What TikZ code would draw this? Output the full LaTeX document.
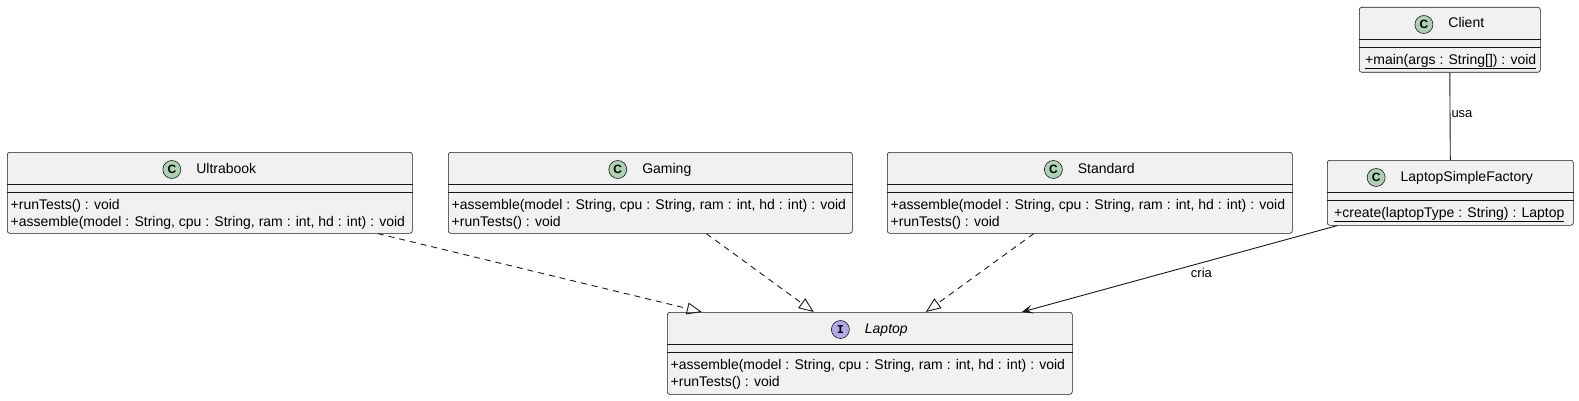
\documentclass[tikz,border=0pt]{standalone}
\usepackage{fontspec}
\setmainfont{Liberation Sans}
\setmonofont{Liberation Mono}
\usetikzlibrary{positioning,arrows.meta}
\definecolor{boxfill}{HTML}{F1F1F1}
\definecolor{boxline}{HTML}{181818}
\definecolor{classicon}{HTML}{ADD1B2}
\definecolor{ifaceicon}{HTML}{B4A7E5}

\tikzset{
  classbox/.style={draw=boxline, fill=boxfill, line width=0.6pt, rounded corners=2.5pt, anchor=north west, inner sep=0pt},
  sepline/.style={draw=boxline, line width=0.6pt},
  icon/.style={circle, draw=boxline, line width=0.6pt, minimum size=18pt, inner sep=0pt, font=\fontsize{12}{12}\selectfont\bfseries},
  ctitle/.style={inner sep=0pt, text height=10pt, text depth=3pt, font=\fontsize{14}{17}\selectfont},
  members/.style={inner sep=0pt, anchor=north west, align=left, font=\fontsize{14}{17}\selectfont},
  lbl/.style={font=\fontsize{13}{15}\selectfont, inner sep=1.5pt},
  realize/.style={draw=boxline, line width=0.9pt, dash pattern=on 6pt off 5pt, -{Triangle[open, length=15pt, width=12pt]}},
  assoc/.style={draw=boxline, line width=0.9pt, -{Stealth[length=11pt, width=9pt, inset=5pt]}},
  link/.style={draw=boxline, line width=0.9pt}
}

\begin{document}
\begin{tikzpicture}[x=1pt, y=-1pt]
\useasboundingbox (0,0) rectangle (1579,401);

% Ultrabook
\node[classbox, minimum width=405pt, minimum height=81pt] (ultra) at (7,152) {};
\draw[sepline] ([yshift=-32pt]ultra.north west) -- ([yshift=-32pt]ultra.north east)
  ([yshift=-40pt]ultra.north west) -- ([yshift=-40pt]ultra.north east);
\node[ctitle] (ultratitle) at ([xshift=16.5pt, yshift=-17.5pt]ultra.north) {Ultrabook};
\node[icon, fill=classicon, left=15pt of ultratitle] (ultraicon) {C};
\node[members] (ultramethods) at ([xshift=3.5pt, yshift=-45pt]ultra.north west)
  {\strut+runTests() : void\\+assemble(model : String, cpu : String, ram : int, hd : int) : void};

% Gaming
\node[classbox, minimum width=404pt, minimum height=81pt] (gaming) at (448,152) {};
\draw[sepline] ([yshift=-32pt]gaming.north west) -- ([yshift=-32pt]gaming.north east)
  ([yshift=-40pt]gaming.north west) -- ([yshift=-40pt]gaming.north east);
\node[ctitle] (gamingtitle) at ([xshift=16.5pt, yshift=-17.5pt]gaming.north) {Gaming};
\node[icon, fill=classicon, left=15pt of gamingtitle] (gamingicon) {C};
\node[members] (gamingmethods) at ([xshift=3.5pt, yshift=-45pt]gaming.north west)
  {\strut+assemble(model : String, cpu : String, ram : int, hd : int) : void\\+runTests() : void};

% Standard
\node[classbox, minimum width=405pt, minimum height=81pt] (standard) at (887,152) {};
\draw[sepline] ([yshift=-32pt]standard.north west) -- ([yshift=-32pt]standard.north east)
  ([yshift=-40pt]standard.north west) -- ([yshift=-40pt]standard.north east);
\node[ctitle] (standardtitle) at ([xshift=16.5pt, yshift=-17.5pt]standard.north) {Standard};
\node[icon, fill=classicon, left=15pt of standardtitle] (standardicon) {C};
\node[members] (standardmethods) at ([xshift=3.5pt, yshift=-45pt]standard.north west)
  {\strut+assemble(model : String, cpu : String, ram : int, hd : int) : void\\+runTests() : void};

% Laptop (interface)
\node[classbox, minimum width=405pt, minimum height=82pt] (laptop) at (667,312) {};
\draw[sepline] ([yshift=-32pt]laptop.north west) -- ([yshift=-32pt]laptop.north east)
  ([yshift=-40pt]laptop.north west) -- ([yshift=-40pt]laptop.north east);
\node[ctitle] (laptoptitle) at ([xshift=16.5pt, yshift=-17.5pt]laptop.north) {\itshape Laptop};
\node[icon, fill=ifaceicon, left=15pt of laptoptitle] (laptopicon) {\ttfamily\bfseries I};
\node[members] (laptopmethods) at ([xshift=3.5pt, yshift=-45pt]laptop.north west)
  {\strut+assemble(model : String, cpu : String, ram : int, hd : int) : void\\+runTests() : void};

% LaptopSimpleFactory
\node[classbox, minimum width=246pt, minimum height=65pt] (factory) at (1327,160) {};
\draw[sepline] ([yshift=-32pt]factory.north west) -- ([yshift=-32pt]factory.north east)
  ([yshift=-40pt]factory.north west) -- ([yshift=-40pt]factory.north east);
\node[ctitle] (factorytitle) at ([xshift=16.5pt, yshift=-17.5pt]factory.north) {LaptopSimpleFactory};
\node[icon, fill=classicon, left=15pt of factorytitle] (factoryicon) {C};
\node[members] (factorymethods) at ([xshift=7pt, yshift=-45pt]factory.north west)
  {\strut\underline{+create(laptopType : String) : Laptop}};

% Client
\node[classbox, minimum width=181pt, minimum height=65pt] (client) at (1359,7) {};
\draw[sepline] ([yshift=-32pt]client.north west) -- ([yshift=-32pt]client.north east)
  ([yshift=-40pt]client.north west) -- ([yshift=-40pt]client.north east);
\node[ctitle] (clienttitle) at ([xshift=16.5pt, yshift=-17.5pt]client.north) {Client};
\node[icon, fill=classicon, left=15pt of clienttitle] (clienticon) {C};
\node[members] (clientmethods) at ([xshift=6pt, yshift=-45pt]client.north west)
  {\strut\underline{+main(args : String[]) : void}};

% connectors
\draw[realize] ([xshift=168pt]ultra.south) -- ([xshift=-168pt]laptop.north);
\draw[realize] ([xshift=56pt]gaming.south) -- ([xshift=-56pt]laptop.north);
\draw[realize] ([xshift=-56pt]standard.south) -- ([xshift=56pt]laptop.north);
\draw[assoc] ([xshift=-113pt]factory.south) -- node[lbl, pos=0.47, anchor=north west] (crialabel) {cria} ([xshift=152pt]laptop.north);
\draw[link] (client.south) -- node[lbl, pos=0.47, right, inner sep=1pt] (usalabel) {usa} (factory.north);
\end{tikzpicture}
\end{document}
